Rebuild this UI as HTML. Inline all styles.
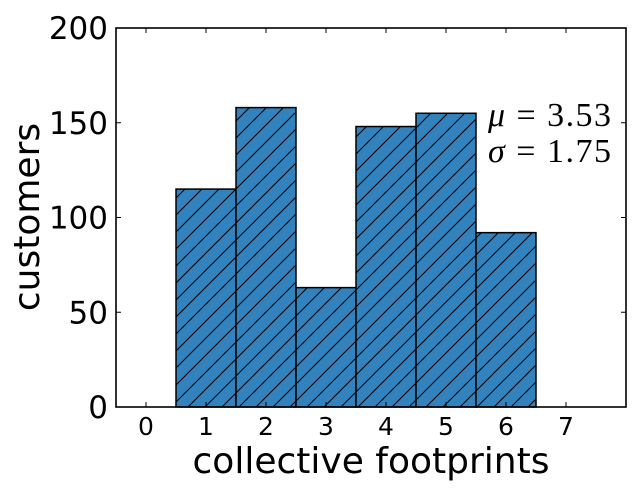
<!DOCTYPE html>
<html><head><meta charset="utf-8"><style>
body{margin:0;background:#fff;}
svg text{font-family:"DejaVu Sans","Liberation Sans",sans-serif;}
svg text.serif{font-family:"Liberation Serif","DejaVu Serif",serif;}
</style></head><body>
<svg id="chart" width="635" height="491" xmlns="http://www.w3.org/2000/svg">
<defs>
<pattern id="hatch" patternUnits="userSpaceOnUse" width="17" height="17">
<rect width="17" height="17" fill="#3182bd"/>
<path d="M-2,19 L19,-2 M-4,4 L4,-4 M13,21 L21,13" stroke="#000" stroke-width="1"/>
</pattern>
</defs>
<g id="bars"></g>
<g id="axes"></g>
<text x="371" y="473" font-size="36" text-anchor="middle">collective footprints</text>
<text transform="translate(39,217) rotate(-90)" font-size="36" text-anchor="middle">customers</text>
<text class="serif" x="488" y="126" font-size="34" textLength="123" lengthAdjust="spacing"><tspan font-style="italic">μ</tspan> = 3.53</text>
<text class="serif" x="488" y="162" font-size="34" textLength="123" lengthAdjust="spacing"><tspan font-style="italic">σ</tspan> = 1.75</text>
</svg>
<script>
const categories=[0,1,2,3,4,5,6];
const counts=[0,115,158,63,148,155,92];
const xTicks=[0,1,2,3,4,5,6,7];
const yTicks=[0,50,100,150,200];
const L=116,R=626,T=28,B=407;
const xs=v=>L+(v+0.5)*(R-L)/8.5;
const ys=v=>B-v*(B-T)/200;
const NS="http://www.w3.org/2000/svg";
const bars=document.getElementById('bars'),axes=document.getElementById('axes');
function mk(tag,a,p){const e=document.createElementNS(NS,tag);for(const k in a)e.setAttribute(k,a[k]);p.appendChild(e);return e;}
categories.forEach((c,i)=>{
 const r=mk('rect',{x:xs(c-0.5),y:ys(counts[i]),width:xs(c+0.5)-xs(c-0.5),height:ys(0)-ys(counts[i]),fill:'url(#hatch)',stroke:'#000','stroke-width':1.5},bars);
 
 
});
const f=mk('rect',{x:L,y:T,width:R-L,height:B-T,fill:'none',stroke:'#000','stroke-width':1.6},axes);


xTicks.forEach(t=>{
 const x=xs(t);
 mk('line',{x1:x,x2:x,y1:B,y2:B-5,stroke:'#000'},axes);
 mk('line',{x1:x,x2:x,y1:T,y2:T+5,stroke:'#000'},axes);
 const tx=mk('text',{x:x,y:B+28,'font-size':25,'text-anchor':'middle'},axes);
 tx.textContent=t;
 
 
});
yTicks.forEach(t=>{
 const y=ys(t);
 mk('line',{x1:L,x2:L+5,y1:y,y2:y,stroke:'#000'},axes);
 mk('line',{x1:R,x2:R-5,y1:y,y2:y,stroke:'#000'},axes);
 const tx=mk('text',{x:L-8,y:y+11,'font-size':31,'text-anchor':'end'},axes);
 tx.textContent=t;
 
 
});
</script>
</body></html>
